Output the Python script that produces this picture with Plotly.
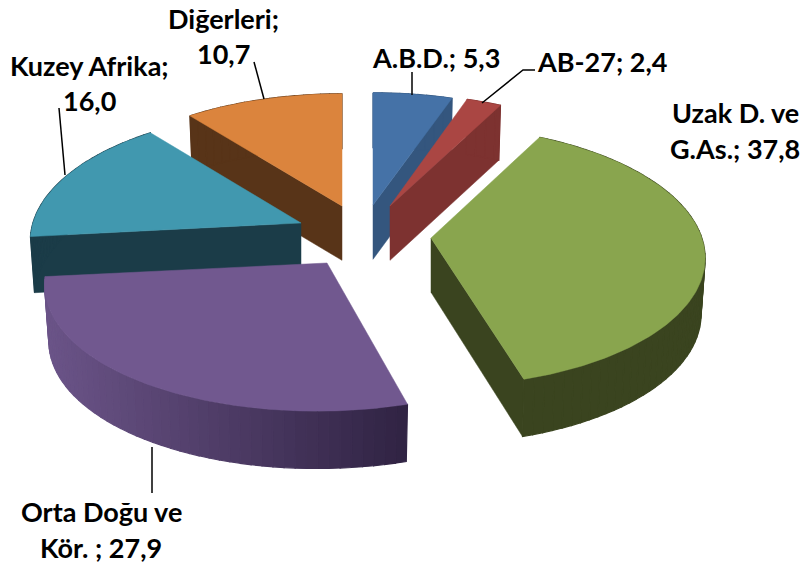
import numpy as np
import plotly.graph_objects as go

# Data
label_lines = [["A.B.D.; 5,3"], ["AB-27; 2,4"], ["Uzak D. ve", "G.As.; 37,8"],
               ["Orta Doğu ve", "Kör. ; 27,9"], ["Kuzey Afrika;", "16,0"], ["Diğerleri;", "10,7"]]
values = [5.3, 2.4, 37.8, 27.9, 16.0, 10.7]

# Style and layout
top_colors = ["#4572A7", "#AA4643", "#89A54E", "#71588F", "#4198AF", "#DB843D"]
wall_left = ["#34567E", "#7D3230", "#3A441F", "#6B5488", "#1B3C48", "#583418"]
wall_right = ["#34567E", "#7D3230", "#3A441F", "#302343", "#1B3C48", "#583418"]
apex = [(373, 205), (390, 206), (431, 238), (327, 263), (301, 223), (342, 206)]
persp_scale = [0.995, 0.97, 0.985, 1.012, 0.975, 0.985]
persp_shear = [0, 0, 0.035, -0.07, 0, 0]
draw_order = [0, 1, 5, 4, 2, 3]
label_pos = [[(436, 57)], [(602, 61)], [(735, 112), (735, 148)],
             [(101, 511), (101, 547)], [(89, 65), (89, 100)], [(223, 18), (223, 53)]]
leaders = [[(412, 72), (412, 95)], [(482, 103), (523, 70), (535, 70)],
           [(254, 62), (264, 99)], [(59, 108), (65, 175)], [(152, 447), (152, 493)]]
A, B, P, H, SHRINK = 275, 127.7, 0.138, 56, 0.985

def rim(i, t, down=False):
    ax = apex[i]
    u, v = np.sin(t), -np.cos(t)
    k = 1 / (1 - P * v)
    a = A * persp_scale[i]
    dy = B * v * k
    x = a * u * k + persp_shear[i] * dy
    if down:
        return ax[0] + x * SHRINK, ax[1] + dy * SHRINK + H * (1 + 0.4 * (k - 1))
    return ax[0] + x, ax[1] + dy

def poly(x, y, color, width=0.5):
    return go.Scatter(x=list(x), y=list(y), mode="lines", fill="toself", fillcolor=color,
                      line=dict(color=color, width=width), hoverinfo="skip", showlegend=False)

def blend(a, b, f):
    ca = [int(a[i:i + 2], 16) for i in (1, 3, 5)]
    cb = [int(b[i:i + 2], 16) for i in (1, 3, 5)]
    return "rgb(%d,%d,%d)" % tuple(round(p + (q - p) * f) for p, q in zip(ca, cb))

fig = go.Figure()
total = sum(values)
edges = np.radians(np.concatenate([[0], np.cumsum(values)]) / total * 360)
for i in draw_order:
    ax, t0, t1 = apex[i], edges[i], edges[i + 1]
    ts = np.linspace(t0, t1, max(8, int(np.degrees(t1 - t0))))
    # radial cuts that face the viewer
    mx, my = rim(i, (t0 + t1) / 2)
    for t in (t0, t1):
        rx, ry = rim(i, t)
        if abs(rx - ax[0]) < 1e-6:
            continue
        if my < ax[1] + (ry - ax[1]) / (rx - ax[0]) * (mx - ax[0]):
            bx, by = rim(i, t, True)
            fig.add_trace(poly([ax[0], rx, bx, ax[0], ax[0]],
                               [ax[1], ry, by, ax[1] + H * 0.97, ax[1]], wall_left[i]))
    # outer wall
    rimx = [rim(i, s)[0] for s in ts]
    xmin, xmax = min(rimx), max(rimx)
    step = 2
    for a, b in zip(ts[:-1:step], np.append(ts[step:-1:step], ts[-1])):
        seg = np.linspace(a, b, 4)
        top = [rim(i, s) for s in seg]
        low = [rim(i, s, True) for s in seg[::-1]]
        pts = top + low + top[:1]
        f = (rim(i, (a + b) / 2)[0] - xmin) / (xmax - xmin)
        fig.add_trace(poly([p[0] for p in pts], [p[1] for p in pts],
                           blend(wall_left[i], wall_right[i], f), 1.2))
    # top surface
    pts = [ax] + [rim(i, s) for s in ts] + [ax]
    fig.add_trace(poly([p[0] for p in pts], [p[1] for p in pts], top_colors[i]))

for seg in leaders:
    fig.add_trace(go.Scatter(x=[p[0] for p in seg], y=[p[1] for p in seg], mode="lines",
                             line=dict(color="#000000", width=1.5), hoverinfo="skip", showlegend=False))

for lines, places in zip(label_lines, label_pos):
    for text, (x, y) in zip(lines, places):
        fig.add_annotation(x=x, y=y, text=text, showarrow=False, xanchor="center", yanchor="middle",
                           font=dict(family="Lato", size=27, color="#000000", weight="bold"))

fig.update_xaxes(range=[0, 806], visible=False, fixedrange=True)
fig.update_yaxes(range=[568, 0], visible=False, fixedrange=True)
fig.update_layout(width=806, height=568, margin=dict(l=0, r=0, t=0, b=0),
                  paper_bgcolor="white", plot_bgcolor="white", showlegend=False)
fig.write_html("out.html", config={"displayModeBar": False},
               post_script="document.body.style.margin='0';")
